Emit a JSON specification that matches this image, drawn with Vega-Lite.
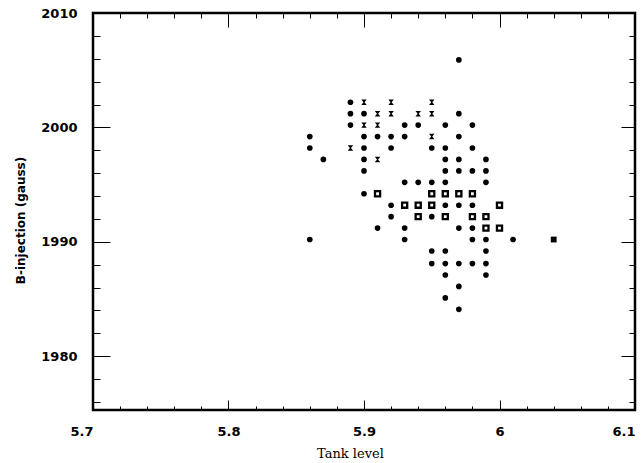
{
  "$schema": "https://vega.github.io/schema/vega-lite/v6.json",
  "width": 542,
  "height": 397,
  "autosize": {"type": "none"},
  "padding": {"left": 93, "top": 13, "right": 7, "bottom": 53},
  "config": {"view": {"stroke": "black", "strokeWidth": 2.5}, "axis": {"zindex": 1}},
  "data": {"values": [
    {"x": 5.89, "y": 2002.2, "m": "dot"}, {"x": 5.90, "y": 2002.2, "m": "x"}, {"x": 5.92, "y": 2002.2, "m": "x"}, {"x": 5.95, "y": 2002.2, "m": "x"},
    {"x": 5.89, "y": 2001.2, "m": "dot"}, {"x": 5.90, "y": 2001.2, "m": "dot"}, {"x": 5.91, "y": 2001.2, "m": "x"}, {"x": 5.92, "y": 2001.2, "m": "x"}, {"x": 5.94, "y": 2001.2, "m": "x"}, {"x": 5.95, "y": 2001.2, "m": "x"}, {"x": 5.97, "y": 2001.2, "m": "dot"},
    {"x": 5.89, "y": 2000.2, "m": "dot"}, {"x": 5.90, "y": 2000.2, "m": "x"}, {"x": 5.91, "y": 2000.2, "m": "x"}, {"x": 5.93, "y": 2000.2, "m": "dot"}, {"x": 5.94, "y": 2000.2, "m": "dot"}, {"x": 5.96, "y": 2000.2, "m": "dot"}, {"x": 5.98, "y": 2000.2, "m": "dot"},
    {"x": 5.86, "y": 1999.2, "m": "dot"}, {"x": 5.90, "y": 1999.2, "m": "dot"}, {"x": 5.91, "y": 1999.2, "m": "dot"}, {"x": 5.92, "y": 1999.2, "m": "dot"}, {"x": 5.93, "y": 1999.2, "m": "dot"}, {"x": 5.95, "y": 1999.2, "m": "x"}, {"x": 5.97, "y": 1999.2, "m": "dot"},
    {"x": 5.86, "y": 1998.2, "m": "dot"}, {"x": 5.89, "y": 1998.2, "m": "x"}, {"x": 5.90, "y": 1998.2, "m": "dot"}, {"x": 5.92, "y": 1998.2, "m": "dot"}, {"x": 5.95, "y": 1998.2, "m": "dot"}, {"x": 5.96, "y": 1998.2, "m": "dot"}, {"x": 5.98, "y": 1998.2, "m": "dot"},
    {"x": 5.87, "y": 1997.2, "m": "dot"}, {"x": 5.90, "y": 1997.2, "m": "dot"}, {"x": 5.91, "y": 1997.2, "m": "x"}, {"x": 5.96, "y": 1997.2, "m": "dot"}, {"x": 5.97, "y": 1997.2, "m": "dot"}, {"x": 5.99, "y": 1997.2, "m": "dot"},
    {"x": 5.90, "y": 1996.2, "m": "dot"}, {"x": 5.96, "y": 1996.2, "m": "dot"}, {"x": 5.97, "y": 1996.2, "m": "dot"}, {"x": 5.98, "y": 1996.2, "m": "dot"}, {"x": 5.99, "y": 1996.2, "m": "dot"},
    {"x": 5.93, "y": 1995.2, "m": "dot"}, {"x": 5.94, "y": 1995.2, "m": "dot"}, {"x": 5.95, "y": 1995.2, "m": "dot"}, {"x": 5.96, "y": 1995.2, "m": "dot"}, {"x": 5.99, "y": 1995.2, "m": "dot"},
    {"x": 5.90, "y": 1994.2, "m": "dot"}, {"x": 5.91, "y": 1994.2, "m": "sq"}, {"x": 5.95, "y": 1994.2, "m": "sq"}, {"x": 5.96, "y": 1994.2, "m": "sq"}, {"x": 5.97, "y": 1994.2, "m": "sq"}, {"x": 5.98, "y": 1994.2, "m": "sq"},
    {"x": 5.92, "y": 1993.2, "m": "dot"}, {"x": 5.93, "y": 1993.2, "m": "sq"}, {"x": 5.94, "y": 1993.2, "m": "sq"}, {"x": 5.95, "y": 1993.2, "m": "sq"}, {"x": 5.96, "y": 1993.2, "m": "dot"}, {"x": 5.97, "y": 1993.2, "m": "dot"}, {"x": 5.98, "y": 1993.2, "m": "dot"}, {"x": 6.00, "y": 1993.2, "m": "sq"},
    {"x": 5.92, "y": 1992.2, "m": "dot"}, {"x": 5.94, "y": 1992.2, "m": "sq"}, {"x": 5.95, "y": 1992.2, "m": "dot"}, {"x": 5.96, "y": 1992.2, "m": "sq"}, {"x": 5.98, "y": 1992.2, "m": "sq"}, {"x": 5.99, "y": 1992.2, "m": "sq"},
    {"x": 5.91, "y": 1991.2, "m": "dot"}, {"x": 5.93, "y": 1991.2, "m": "dot"}, {"x": 5.97, "y": 1991.2, "m": "dot"}, {"x": 5.98, "y": 1991.2, "m": "dot"}, {"x": 5.99, "y": 1991.2, "m": "sq"}, {"x": 6.00, "y": 1991.2, "m": "sq"},
    {"x": 5.86, "y": 1990.2, "m": "dot"}, {"x": 5.93, "y": 1990.2, "m": "dot"}, {"x": 5.98, "y": 1990.2, "m": "dot"}, {"x": 5.99, "y": 1990.2, "m": "dot"}, {"x": 6.01, "y": 1990.2, "m": "dot"}, {"x": 6.04, "y": 1990.2, "m": "fsq"},
    {"x": 5.95, "y": 1989.2, "m": "dot"}, {"x": 5.96, "y": 1989.2, "m": "dot"}, {"x": 5.99, "y": 1989.2, "m": "dot"},
    {"x": 5.95, "y": 1988.1, "m": "dot"}, {"x": 5.96, "y": 1988.1, "m": "dot"}, {"x": 5.97, "y": 1988.1, "m": "dot"}, {"x": 5.98, "y": 1988.1, "m": "dot"}, {"x": 5.99, "y": 1988.1, "m": "dot"},
    {"x": 5.96, "y": 1987.1, "m": "dot"}, {"x": 5.99, "y": 1987.1, "m": "dot"},
    {"x": 5.97, "y": 1986.1, "m": "dot"},
    {"x": 5.96, "y": 1985.1, "m": "dot"},
    {"x": 5.97, "y": 1984.1, "m": "dot"},
    {"x": 5.97, "y": 2005.9, "m": "dot"}
  ]},
  "layer": [
    {
      "transform": [{"filter": "datum.m == 'dot'"}],
      "mark": {"type": "point", "shape": "circle", "filled": true, "color": "black", "size": 32, "opacity": 1},
      "encoding": {
        "x": {"field": "x", "type": "quantitative", "scale": {"domain": [5.7, 6.1], "nice": false, "zero": false},
          "axis": {"orient": "bottom", "title": "Tank level", "values": [5.7, 5.8, 5.9, 6, 6.1], "offset": -10, "zindex": 1,
            "ticks": true, "tickSize": 10, "tickColor": "black", "domainOpacity": 0, "gridOpacity": 0,
            "labelExpr": "toString(round(datum.value*10)/10)",
            "labelAlign": {"condition": {"test": "datum.value < 5.75 || datum.value > 6.05", "value": "right"}, "value": "center"},
            "labelFont": "DejaVu Sans", "labelFontWeight": "bold", "labelFontSize": 13, "labelColor": "black", "labelPadding": 15, "labelFlush": false, "labelOverlap": false,
            "titleFont": "DejaVu Serif", "titleFontSize": 13, "titleFontWeight": "normal", "titleColor": "black", "titleX": 257, "titleY": 53, "titleBaseline": "middle", "titleAnchor": null}},
        "y": {"field": "y", "type": "quantitative", "scale": {"domain": [1975.3, 2010], "nice": false, "zero": false},
          "axis": {"orient": "left", "title": "B-injection (gauss)", "values": [1980, 1990, 2000, 2010], "offset": -17, "zindex": 1,
            "ticks": true, "tickSize": 17, "tickColor": "black", "domainOpacity": 0, "gridOpacity": 0,
            "format": "d",
            "labelFont": "DejaVu Sans", "labelFontWeight": "bold", "labelFontSize": 13, "labelColor": "black", "labelPadding": 16, "labelOverlap": false, "labelFlush": false,
            "titleFont": "DejaVu Sans", "titleFontSize": 12, "titleFontWeight": "bold", "titleColor": "black", "titleX": -90, "titleY": 207, "titleAngle": -90, "titleBaseline": "middle", "titleAlign": "center", "titleAnchor": null}}
      }
    },
    {
      "transform": [{"filter": "datum.m == 'sq'"}],
      "mark": {"type": "point", "shape": "square", "filled": false, "color": "black", "strokeWidth": 2.3, "size": 26, "opacity": 1},
      "encoding": {
        "x": {"field": "x", "type": "quantitative", "scale": {"domain": [5.7, 6.1], "nice": false, "zero": false},
          "axis": {"orient": "top", "title": null, "values": [5.8, 5.9, 6], "offset": -14, "zindex": 1,
            "ticks": true, "tickSize": 14, "tickColor": "black", "domainOpacity": 0, "gridOpacity": 0, "labels": false}},
        "y": {"field": "y", "type": "quantitative", "scale": {"domain": [1975.3, 2010], "nice": false, "zero": false},
          "axis": {"orient": "right", "title": null, "values": [1980, 1990, 2000], "offset": -14, "zindex": 1,
            "ticks": true, "tickSize": 14, "tickColor": "black", "domainOpacity": 0, "gridOpacity": 0, "labels": false}}
      }
    },
    {
      "transform": [{"filter": "datum.m == 'x'"}],
      "mark": {"type": "point", "shape": "M-1,-1L1,-1L0.2,0L1,1L-1,1L-0.2,0Z", "filled": true, "color": "black", "size": 30, "opacity": 1},
      "encoding": {
        "x": {"field": "x", "type": "quantitative", "scale": {"domain": [5.7, 6.1], "nice": false, "zero": false},
          "axis": {"orient": "bottom", "title": null, "values": [5.72,5.74,5.76,5.78,5.82,5.84,5.86,5.88,5.92,5.94,5.96,5.98,6.02,6.04,6.06,6.08], "offset": -4, "zindex": 1,
            "ticks": true, "tickSize": 4, "tickColor": "black", "domainOpacity": 0, "gridOpacity": 0, "labels": false}},
        "y": {"field": "y", "type": "quantitative", "scale": {"domain": [1975.3, 2010], "nice": false, "zero": false},
          "axis": {"orient": "left", "title": null, "values": [1976,1978,1982,1984,1986,1988,1992,1994,1996,1998,2002,2004,2006,2008], "offset": -7, "zindex": 1,
            "ticks": true, "tickSize": 7, "tickColor": "black", "domainOpacity": 0, "gridOpacity": 0, "labels": false}}
      }
    },
    {
      "transform": [{"filter": "datum.m == 'fsq'"}],
      "mark": {"type": "point", "shape": "square", "filled": true, "color": "black", "size": 34, "opacity": 1},
      "encoding": {
        "x": {"field": "x", "type": "quantitative", "scale": {"domain": [5.7, 6.1], "nice": false, "zero": false},
          "axis": {"orient": "top", "title": null, "values": [5.72,5.74,5.76,5.78,5.82,5.84,5.86,5.88,5.92,5.94,5.96,5.98,6.02,6.04,6.06,6.08], "offset": -5, "zindex": 1,
            "ticks": true, "tickSize": 5, "tickColor": "black", "domainOpacity": 0, "gridOpacity": 0, "labels": false}},
        "y": {"field": "y", "type": "quantitative", "scale": {"domain": [1975.3, 2010], "nice": false, "zero": false},
          "axis": {"orient": "right", "title": null, "values": [1976,1978,1982,1984,1986,1988,1992,1994,1996,1998,2002,2004,2006,2008], "offset": -6, "zindex": 1,
            "ticks": true, "tickSize": 6, "tickColor": "black", "domainOpacity": 0, "gridOpacity": 0, "labels": false}}
      }
    }
  ],
  "resolve": {"scale": {"x": "independent", "y": "independent"}, "axis": {"x": "independent", "y": "independent"}}
}
